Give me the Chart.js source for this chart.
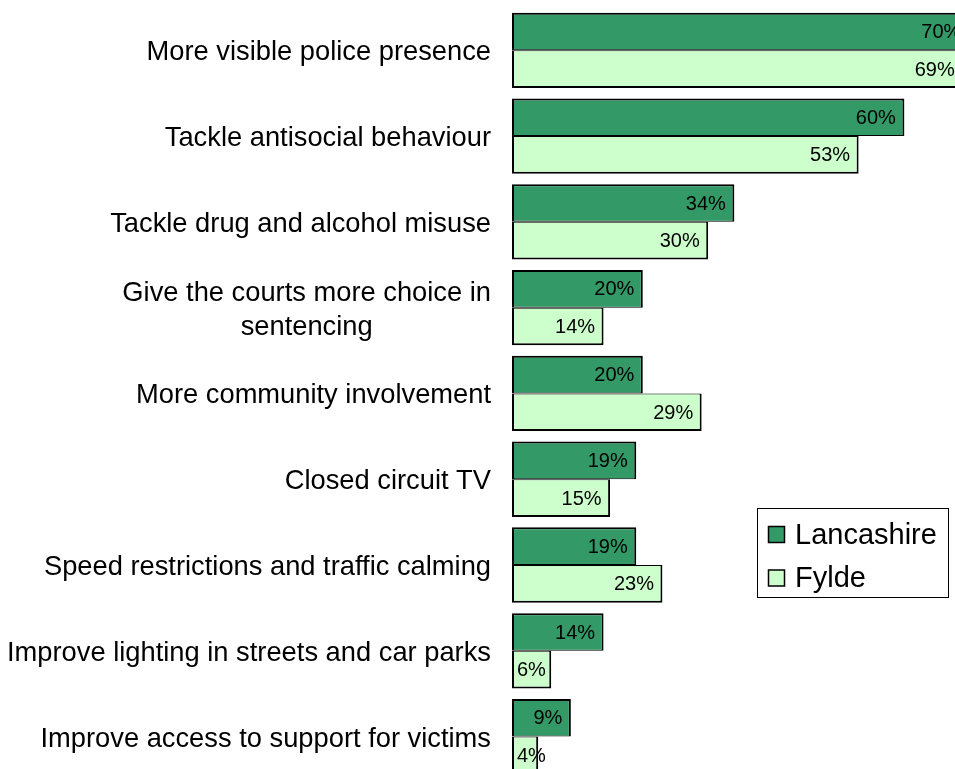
<!DOCTYPE html>
<html>
<head>
<meta charset="utf-8">
<script src="https://cdn.jsdelivr.net/npm/chart.js@4/dist/chart.umd.min.js"></script>
<style>
  html, body { margin: 0; padding: 0; background: #fff; overflow: hidden; }
  #wrap { position: relative; width: 955px; height: 769px; overflow: hidden; background: #fff; }
  #c { position: absolute; left: 0; top: 0; }
</style>
</head>
<body>
<div id="wrap"><canvas id="c" width="1040" height="780"></canvas></div>
<script>
// ---- data ----
const categories = [
  "More visible police presence",
  "Tackle antisocial behaviour",
  "Tackle drug and alcohol misuse",
  ["Give the courts more choice in", "sentencing"],
  "More community involvement",
  "Closed circuit TV",
  "Speed restrictions and traffic calming",
  "Improve lighting in streets and car parks",
  "Improve access to support for victims"
];
const seriesNames = ["Lancashire", "Fylde"];
const lancashire = [70, 60, 34, 20, 20, 19, 19, 14, 9];
const fylde = [69, 53, 30, 14, 29, 15, 23, 6, 4];

const FONT = '"Liberation Sans", Arial, Helvetica, sans-serif';
const DARK = '#339966';
const LIGHT = '#CCFFCC';

const categoryLabels = {
  id: 'categoryLabels',
  afterDraw(chart) {
    const ctx = chart.ctx;
    const y = chart.scales.y;
    const rightX = 491;
    const lineH = 34;
    ctx.save();
    ctx.font = '27.3px ' + FONT;
    ctx.fillStyle = '#000';
    ctx.textBaseline = 'middle';
    chart.data.labels.forEach((lab, i) => {
      const lines = Array.isArray(lab) ? lab : [lab];
      const cy = y.getPixelForTick(i) + 2.5;
      const blockW = Math.max(...lines.map(l => ctx.measureText(l).width));
      const cx = rightX - blockW / 2;
      lines.forEach((l, k) => {
        const ly = cy + (k - (lines.length - 1) / 2) * lineH;
        if (lines.length > 1) {
          ctx.textAlign = 'center';
          ctx.fillText(l, cx, ly);
        } else {
          ctx.textAlign = 'right';
          ctx.fillText(l, rightX, ly);
        }
      });
    });
    ctx.restore();
  }
};

const valueLabels = {
  id: 'valueLabels',
  afterDatasetsDraw(chart) {
    const ctx = chart.ctx;
    ctx.save();
    ctx.font = '20px ' + FONT;
    ctx.fillStyle = '#000';
    ctx.textBaseline = 'middle';
    ctx.textAlign = 'left';
    chart.data.datasets.forEach((ds, di) => {
      const meta = chart.getDatasetMeta(di);
      meta.data.forEach((el, i) => {
        const txt = ds.data[i] + '%';
        const w = ctx.measureText(txt).width;
        let left = el.x - 8.5 - w;
        const minLeft = el.base + 5;
        if (left < minLeft) left = minLeft;
        ctx.fillText(txt, left, el.y + 1);
      });
    });
    ctx.restore();
  }
};

const boxLegend = {
  id: 'boxLegend',
  afterDraw(chart) {
    const ctx = chart.ctx;
    ctx.save();
    ctx.strokeStyle = '#000';
    ctx.lineWidth = 1;
    ctx.fillStyle = '#fff';
    ctx.fillRect(757.5, 508.5, 191, 89);
    ctx.strokeRect(757.5, 508.5, 191, 89);
    const rows = [534.5, 578];
    ctx.font = '29px ' + FONT;
    ctx.textBaseline = 'alphabetic';
    ctx.textAlign = 'left';
    chart.data.datasets.forEach((ds, i) => {
      const cy = rows[i];
      ctx.fillStyle = ds.backgroundColor;
      ctx.fillRect(768.5, cy - 8, 16, 16);
      ctx.lineWidth = 1.5;
      ctx.strokeStyle = '#000';
      ctx.strokeRect(768.5, cy - 8, 16, 16);
      ctx.fillStyle = '#000';
      ctx.fillText(ds.label, 795, cy + 9);
    });
    ctx.restore();
  }
};

new Chart(document.getElementById('c'), {
  type: 'bar',
  data: {
    labels: categories,
    datasets: [
      {
        label: seriesNames[0],
        data: lancashire,
        backgroundColor: DARK,
        borderColor: '#000',
        borderWidth: { top: 2, right: 2, bottom: 1, left: 2 },
        borderSkipped: false,
        categoryPercentage: 0.878,
        barPercentage: 1.0
      },
      {
        label: seriesNames[1],
        data: fylde,
        backgroundColor: LIGHT,
        borderColor: '#000',
        borderWidth: { top: 1, right: 2, bottom: 2, left: 2 },
        borderSkipped: false,
        categoryPercentage: 0.878,
        barPercentage: 1.0
      }
    ]
  },
  options: {
    indexAxis: 'y',
    responsive: false,
    animation: false,
    devicePixelRatio: 1,
    layout: { padding: { left: 512, right: 4.8, top: 7.4, bottom: 0.5 } },
    scales: {
      x: { display: false, min: 0, max: 80, grid: { display: false } },
      y: { display: false, grid: { display: false } }
    },
    plugins: {
      legend: { display: false },
      tooltip: { enabled: false }
    }
  },
  plugins: [valueLabels, categoryLabels, boxLegend]
});
</script>
</body>
</html>
